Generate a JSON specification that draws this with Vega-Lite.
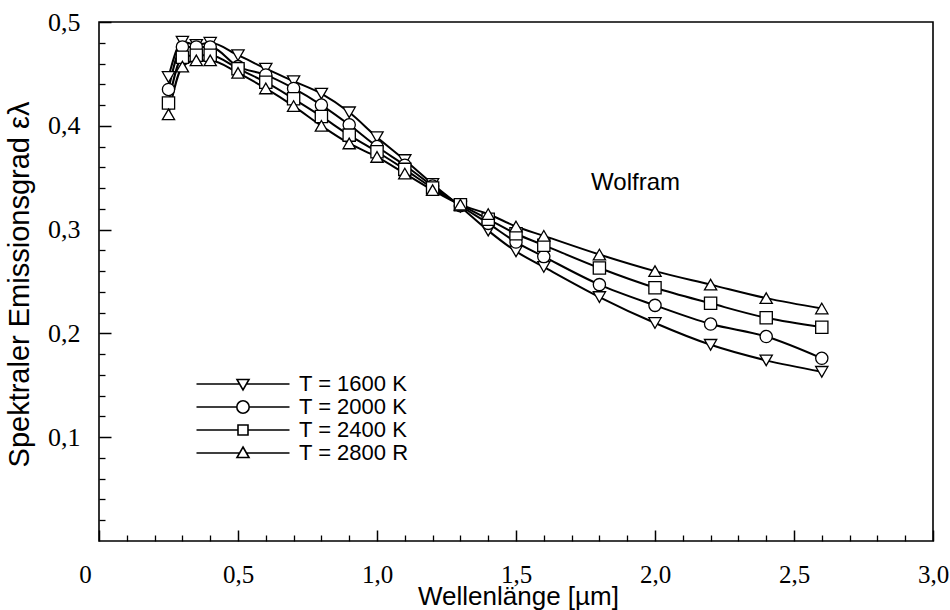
{
  "$schema": "https://vega.github.io/schema/vega-lite/v6.json",
  "width": 834,
  "height": 519,
  "autosize": {"type": "none"},
  "padding": {"left": 99, "top": 22, "right": 17, "bottom": 69},
  "background": "white",
  "config": {
    "font": "Liberation Sans",
    "view": {"stroke": "black", "strokeWidth": 1.6},
    "axis": {"grid": false, "domain": false, "tickColor": "black", "labelColor": "black", "titleColor": "black", "labelFont": "Liberation Sans Narrow", "titleFont": "Liberation Sans", "labelFontWeight": "normal", "titleFontWeight": "normal"}
  },
  "data": {"values": [
    {"T": "T = 1600 K", "wl": 0.25, "eps": 0.447}, {"T": "T = 1600 K", "wl": 0.3, "eps": 0.481}, {"T": "T = 1600 K", "wl": 0.35, "eps": 0.478}, {"T": "T = 1600 K", "wl": 0.4, "eps": 0.48}, {"T": "T = 1600 K", "wl": 0.5, "eps": 0.468}, {"T": "T = 1600 K", "wl": 0.6, "eps": 0.455}, {"T": "T = 1600 K", "wl": 0.7, "eps": 0.443}, {"T": "T = 1600 K", "wl": 0.8, "eps": 0.431}, {"T": "T = 1600 K", "wl": 0.9, "eps": 0.413}, {"T": "T = 1600 K", "wl": 1.0, "eps": 0.389}, {"T": "T = 1600 K", "wl": 1.1, "eps": 0.367}, {"T": "T = 1600 K", "wl": 1.2, "eps": 0.344}, {"T": "T = 1600 K", "wl": 1.3, "eps": 0.322}, {"T": "T = 1600 K", "wl": 1.4, "eps": 0.299}, {"T": "T = 1600 K", "wl": 1.5, "eps": 0.279}, {"T": "T = 1600 K", "wl": 1.6, "eps": 0.264}, {"T": "T = 1600 K", "wl": 1.8, "eps": 0.235}, {"T": "T = 1600 K", "wl": 2.0, "eps": 0.21}, {"T": "T = 1600 K", "wl": 2.2, "eps": 0.189}, {"T": "T = 1600 K", "wl": 2.4, "eps": 0.174}, {"T": "T = 1600 K", "wl": 2.6, "eps": 0.163},
    {"T": "T = 2000 K", "wl": 0.25, "eps": 0.435}, {"T": "T = 2000 K", "wl": 0.3, "eps": 0.476}, {"T": "T = 2000 K", "wl": 0.35, "eps": 0.476}, {"T": "T = 2000 K", "wl": 0.4, "eps": 0.476}, {"T": "T = 2000 K", "wl": 0.5, "eps": 0.457}, {"T": "T = 2000 K", "wl": 0.6, "eps": 0.449}, {"T": "T = 2000 K", "wl": 0.7, "eps": 0.436}, {"T": "T = 2000 K", "wl": 0.8, "eps": 0.42}, {"T": "T = 2000 K", "wl": 0.9, "eps": 0.401}, {"T": "T = 2000 K", "wl": 1.0, "eps": 0.38}, {"T": "T = 2000 K", "wl": 1.1, "eps": 0.362}, {"T": "T = 2000 K", "wl": 1.2, "eps": 0.342}, {"T": "T = 2000 K", "wl": 1.3, "eps": 0.323}, {"T": "T = 2000 K", "wl": 1.4, "eps": 0.306}, {"T": "T = 2000 K", "wl": 1.5, "eps": 0.288}, {"T": "T = 2000 K", "wl": 1.6, "eps": 0.274}, {"T": "T = 2000 K", "wl": 1.8, "eps": 0.247}, {"T": "T = 2000 K", "wl": 2.0, "eps": 0.227}, {"T": "T = 2000 K", "wl": 2.2, "eps": 0.209}, {"T": "T = 2000 K", "wl": 2.4, "eps": 0.197}, {"T": "T = 2000 K", "wl": 2.6, "eps": 0.176},
    {"T": "T = 2400 K", "wl": 0.25, "eps": 0.422}, {"T": "T = 2400 K", "wl": 0.3, "eps": 0.466}, {"T": "T = 2400 K", "wl": 0.35, "eps": 0.468}, {"T": "T = 2400 K", "wl": 0.4, "eps": 0.468}, {"T": "T = 2400 K", "wl": 0.5, "eps": 0.455}, {"T": "T = 2400 K", "wl": 0.6, "eps": 0.442}, {"T": "T = 2400 K", "wl": 0.7, "eps": 0.426}, {"T": "T = 2400 K", "wl": 0.8, "eps": 0.409}, {"T": "T = 2400 K", "wl": 0.9, "eps": 0.391}, {"T": "T = 2400 K", "wl": 1.0, "eps": 0.375}, {"T": "T = 2400 K", "wl": 1.1, "eps": 0.358}, {"T": "T = 2400 K", "wl": 1.2, "eps": 0.34}, {"T": "T = 2400 K", "wl": 1.3, "eps": 0.324}, {"T": "T = 2400 K", "wl": 1.4, "eps": 0.31}, {"T": "T = 2400 K", "wl": 1.5, "eps": 0.296}, {"T": "T = 2400 K", "wl": 1.6, "eps": 0.285}, {"T": "T = 2400 K", "wl": 1.8, "eps": 0.263}, {"T": "T = 2400 K", "wl": 2.0, "eps": 0.244}, {"T": "T = 2400 K", "wl": 2.2, "eps": 0.229}, {"T": "T = 2400 K", "wl": 2.4, "eps": 0.215}, {"T": "T = 2400 K", "wl": 2.6, "eps": 0.206},
    {"T": "T = 2800 R", "wl": 0.25, "eps": 0.411}, {"T": "T = 2800 R", "wl": 0.3, "eps": 0.457}, {"T": "T = 2800 R", "wl": 0.35, "eps": 0.463}, {"T": "T = 2800 R", "wl": 0.4, "eps": 0.463}, {"T": "T = 2800 R", "wl": 0.5, "eps": 0.451}, {"T": "T = 2800 R", "wl": 0.6, "eps": 0.436}, {"T": "T = 2800 R", "wl": 0.7, "eps": 0.419}, {"T": "T = 2800 R", "wl": 0.8, "eps": 0.4}, {"T": "T = 2800 R", "wl": 0.9, "eps": 0.383}, {"T": "T = 2800 R", "wl": 1.0, "eps": 0.37}, {"T": "T = 2800 R", "wl": 1.1, "eps": 0.354}, {"T": "T = 2800 R", "wl": 1.2, "eps": 0.338}, {"T": "T = 2800 R", "wl": 1.3, "eps": 0.324}, {"T": "T = 2800 R", "wl": 1.4, "eps": 0.315}, {"T": "T = 2800 R", "wl": 1.5, "eps": 0.303}, {"T": "T = 2800 R", "wl": 1.6, "eps": 0.294}, {"T": "T = 2800 R", "wl": 1.8, "eps": 0.276}, {"T": "T = 2800 R", "wl": 2.0, "eps": 0.26}, {"T": "T = 2800 R", "wl": 2.2, "eps": 0.247}, {"T": "T = 2800 R", "wl": 2.4, "eps": 0.234}, {"T": "T = 2800 R", "wl": 2.6, "eps": 0.224}
  ]},
  "resolve": {"scale": {"shape": "independent"}, "axis": {"x": "independent", "y": "independent"}, "legend": {"shape": "independent"}},
  "layer": [
    {
      "mark": {"type": "line", "color": "black", "strokeWidth": 2, "interpolate": "monotone"},
      "encoding": {
        "x": {"field": "wl", "type": "quantitative", "scale": {"domain": [0, 3], "nice": false, "zero": false},
          "axis": {"orient": "bottom", "values": [0, 0.5, 1, 1.5, 2, 2.5, 3], "tickSize": -11, "tickWidth": 1.5, "labelPadding": 52, "labelBaseline": "alphabetic", "labelFontSize": 25,
            "labelExpr": "datum.value == 0 ? '0' : replace(format(datum.value, '.1f'), '.', ',')",
            "labelFlush": false, "labelOverlap": false,
            "labelOffset": {"condition": {"test": "datum.value == 0", "value": -14}, "value": 0},
            "title": "Wellenlänge [µm]", "titleFontSize": 26, "titleX": 419, "titleY": 63, "titleBaseline": "alphabetic", "titleAnchor": "middle"}},
        "y": {"field": "eps", "type": "quantitative", "scale": {"domain": [0, 0.5], "nice": false, "zero": false},
          "axis": {"orient": "left", "values": [0.1, 0.2, 0.3, 0.4, 0.5], "tickSize": -12, "tickWidth": 1.5, "labelPadding": 31, "labelFontSize": 26,
            "labelExpr": "replace(format(datum.value, '.1f'), '.', ',')", "labelFlush": false, "labelOverlap": false,
            "title": "Spektraler Emissionsgrad ελ", "titleFontSize": 29, "titleX": -71, "titleY": 262, "titleBaseline": "alphabetic", "titleAngle": -90, "titleAnchor": "middle"}},
        "detail": {"field": "T"}
      }
    },
    {
      "mark": {"type": "point", "filled": true, "fill": "white", "stroke": "black", "strokeWidth": 1.3, "size": 150, "opacity": 1},
      "encoding": {
        "x": {"field": "wl", "type": "quantitative",
          "axis": {"orient": "bottom", "values": [0.1, 0.2, 0.3, 0.4, 0.6, 0.7, 0.8, 0.9, 1.1, 1.2, 1.3, 1.4, 1.6, 1.7, 1.8, 1.9, 2.1, 2.2, 2.3, 2.4, 2.6, 2.7, 2.8, 2.9], "tickSize": -6, "tickWidth": 1.3, "labels": false, "title": null}},
        "y": {"field": "eps", "type": "quantitative",
          "axis": {"orient": "left", "values": [0.02, 0.04, 0.06, 0.08, 0.12, 0.14, 0.16, 0.18, 0.22, 0.24, 0.26, 0.28, 0.32, 0.34, 0.36, 0.38, 0.42, 0.44, 0.46, 0.48], "tickSize": -6, "tickWidth": 1.3, "labels": false, "title": null}},
        "shape": {"field": "T", "type": "nominal", "scale": {"domain": ["T = 1600 K", "T = 2000 K", "T = 2400 K", "T = 2800 R"], "range": ["triangle-down", "circle", "square", "triangle-up"]}, "legend": null}
      }
    },
    {
      "transform": [{"filter": "datum.wl < 0"}],
      "mark": {"type": "point", "filled": false, "color": "black", "strokeWidth": 1.6},
      "encoding": {
        "x": {"field": "wl", "type": "quantitative", "axis": null},
        "y": {"field": "eps", "type": "quantitative", "axis": null},
        "shape": {"field": "T", "type": "nominal",
          "scale": {"domain": ["T = 1600 K", "T = 2000 K", "T = 2400 K", "T = 2800 R"],
            "range": [
              "M-4.65,0H-0.34M0.34,0H4.65M-0.6,-0.45L0.6,-0.45L0,0.6Z",
              "M-4.65,0H-0.62M0.62,0H4.65M-0.62,0A0.62,0.62 0 1,0 0.62,0A0.62,0.62 0 1,0 -0.62,0Z",
              "M-4.65,0H-0.5M0.5,0H4.65M-0.5,-0.5H0.5V0.5H-0.5Z",
              "M-4.65,0H-0.34M0.34,0H4.65M0,-0.6L0.6,0.45L-0.6,0.45Z"
            ]},
          "legend": {"orient": "none", "legendX": 133, "legendY": 351, "title": null, "padding": 0, "symbolSize": 400, "symbolOpacity": 1, "symbolFillColor": "white", "symbolStrokeColor": "black", "symbolStrokeWidth": 1.6, "labelOffset": 45, "labelFontSize": 22, "labelColor": "black", "labelFont": "Liberation Sans", "rowPadding": 1, "labelLimit": 300,
            "encode": {"symbols": {"update": {"stroke": {"value": "black"}, "fill": {"value": "white"}, "strokeWidth": {"value": 1.6}, "opacity": {"value": 1}}}}}
        }
      }
    },
    {
      "data": {"values": [{"wlabel": "Wolfram"}]},
      "mark": {"type": "text", "fontSize": 24, "font": "Liberation Sans", "color": "black", "align": "center", "baseline": "middle"},
      "encoding": {
        "x": {"datum": 1.93, "type": "quantitative", "axis": null},
        "y": {"datum": 0.345, "type": "quantitative", "axis": null},
        "text": {"field": "wlabel"}
      }
    }
  ]
}
